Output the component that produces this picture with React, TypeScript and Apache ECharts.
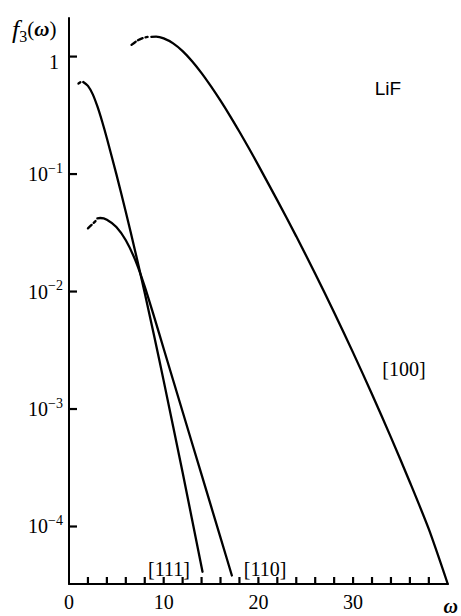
import React, { useEffect, useRef } from 'react';
import * as echarts from 'echarts';

// Curve [100]
const w100Dash = [6.6, 7.2, 7.8, 8.3];
const f100Dash = [1.259, 1.365, 1.439, 1.469];
const w100 = [8.7, 9.2, 10, 11, 12, 13, 14, 15, 16, 17, 18, 19, 20, 22, 24, 26, 28, 30, 32, 34, 36, 38, 40];
const f100 = [1.472, 1.479, 1.429, 1.296, 1.113, 0.913, 0.723, 0.557, 0.421, 0.313, 0.229, 0.166, 0.1186, 0.0597, 0.0295, 0.01419, 0.00664, 0.00302, 0.001337, 5.74e-4, 2.38e-4, 9.48e-5, 3.24e-5];

// Curve [111]
const w111Dash = [1.0, 1.2];
const f111Dash = [0.59, 0.605];
const w111 = [1.5, 2.0, 2.5, 3.0, 3.5, 4.0, 5.0, 6.0, 7.0, 8.0, 9.0, 10.0, 12.0, 14.1];
const f111 = [0.607, 0.563, 0.479, 0.376, 0.28, 0.2016, 0.0999, 0.0475, 0.02185, 0.00971, 0.004164, 0.001736, 2.88e-4, 4.12e-5];

// Curve [110]
const w110Dash = [2.0, 2.4, 2.8];
const f110Dash = [0.0345, 0.037, 0.0398];
const w110 = [3.0, 3.3, 4.0, 5.0, 6.0, 7.0, 8.0, 9.0, 10.0, 12.0, 14.0, 16.0, 17.2];
const f110 = [0.0419, 0.04227, 0.04093, 0.03544, 0.02735, 0.01849, 0.01102, 0.006053, 0.003258, 9.48e-4, 2.76e-4, 8.04e-5, 3.83e-5];

// Axis ticks and labels
const xTickValues = [2, 4, 6, 8, 10, 12, 14, 16, 18, 20, 22, 24, 26, 28, 30, 32, 34, 36, 38];
const xLabelled = [0, 10, 20, 30];
const yDecades = [1e-4, 1e-3, 1e-2, 1e-1, 1];
const yMin = 3.24e-5;
const yMax = 2.13;

const SERIF = '"Liberation Serif", "Times New Roman", serif';
const SANS = '"Liberation Sans", Arial, sans-serif';

const pairs = (w: number[], f: number[]) => w.map((x, i) => [x, f[i]]);

const lineSeries = (name: string, w: number[], f: number[], dashed: boolean) => ({
  name,
  type: 'line',
  data: pairs(w, f),
  showSymbol: false,
  symbol: 'none',
  smooth: 0.25,
  silent: true,
  lineStyle: { color: '#000', width: 2.3, type: dashed ? [5, 3] : 'solid', cap: 'round' },
});

export default function App() {
  const ref = useRef<HTMLDivElement>(null);
  useEffect(() => {
    if (!ref.current) return;
    const chart = echarts.init(ref.current, undefined, { renderer: 'svg' });
    chart.setOption({
      animation: false,
      backgroundColor: '#fff',
      grid: { left: 69, right: 4, top: 18, bottom: 30, containLabel: false },
      xAxis: {
        type: 'value',
        min: 0,
        max: 40,
        interval: 2,
        axisLine: { show: true, onZero: false, lineStyle: { color: '#000', width: 2 } },
        axisTick: { show: false },
        splitLine: { show: false },
        axisLabel: {
          margin: 8,
          color: '#000',
          fontFamily: SERIF,
          fontSize: 20,
          formatter: (v: number) => {
            if (Math.abs(v - 40) < 1e-6) return '{w|ω}';
            return xLabelled.includes(v) ? String(v) : '';
          },
          rich: {
            w: { fontFamily: SERIF, fontSize: 20, fontStyle: 'italic', fontWeight: 'bold', color: '#000', padding: [4, 0, 0, 6] },
          },
        },
      },
      yAxis: {
        type: 'log',
        logBase: 10,
        min: yMin,
        max: yMax,
        axisLine: { show: true, lineStyle: { color: '#000', width: 2 } },
        axisTick: { show: false },
        splitLine: { show: false },
        axisLabel: {
          margin: 6,
          color: '#000',
          showMinLabel: false,
          showMaxLabel: false,
          formatter: (v: number) => {
            const l = Math.log10(v);
            const e = Math.round(l);
            if (Math.abs(l - e) > 0.01) return '';
            if (e === 0) return '{one|1}';
            return `{b|10}{s|−${-e}}`;
          },
          rich: {
            one: { fontFamily: SERIF, fontSize: 20, color: '#000', lineHeight: 24, padding: [10, 4, 0, 0] },
            b: { fontFamily: SERIF, fontSize: 20, color: '#000', lineHeight: 26 },
            s: { fontFamily: SERIF, fontSize: 14, color: '#000', lineHeight: 14, verticalAlign: 'top' },
          },
        },
      },
      series: [
        lineSeries('[100] dash', w100Dash, f100Dash, true),
        lineSeries('[100]', w100, f100, false),
        lineSeries('[111] dash', w111Dash, f111Dash, true),
        lineSeries('[111]', w111, f111, false),
        lineSeries('[110] dash', w110Dash, f110Dash, true),
        lineSeries('[110]', w110, f110, false),
        {
          name: 'x ticks',
          type: 'custom',
          silent: true,
          clip: false,
          z: 4,
          data: xTickValues.map((v) => [v, yMin]),
          renderItem: (_params: any, api: any) => {
            const p = api.coord([api.value(0), api.value(1)]);
            return {
              type: 'line',
              shape: { x1: p[0], y1: p[1], x2: p[0], y2: p[1] - 7 },
              style: { stroke: '#000', lineWidth: 2.2 },
            };
          },
        },
        {
          name: 'y ticks',
          type: 'custom',
          silent: true,
          clip: false,
          z: 4,
          data: yDecades.map((v) => [0, v]),
          renderItem: (_params: any, api: any) => {
            const p = api.coord([api.value(0), api.value(1)]);
            return {
              type: 'line',
              shape: { x1: p[0], y1: p[1], x2: p[0] + 8, y2: p[1] },
              style: { stroke: '#000', lineWidth: 2.2 },
            };
          },
        },
      ],
      graphic: [
        {
          type: 'text',
          x: 12,
          y: 14,
          style: {
            text: '{f|f}{sub|3}{p|(}{w|ω}{p|)}',
            rich: {
              f: { fontFamily: SERIF, fontSize: 26, fontStyle: 'italic', fill: '#000', color: '#000', lineHeight: 30 },
              sub: { fontFamily: SERIF, fontSize: 16, fill: '#000', color: '#000', lineHeight: 16, verticalAlign: 'bottom' },
              p: { fontFamily: SERIF, fontSize: 21, fill: '#000', color: '#000', lineHeight: 26 },
              w: { fontFamily: SERIF, fontSize: 21, fontStyle: 'italic', fontWeight: 'bold', fill: '#000', color: '#000', lineHeight: 26 },
            },
          },
        },
        {
          type: 'text',
          x: 388,
          y: 88,
          style: { text: 'LiF', fill: '#000', fontFamily: SANS, fontSize: 19, align: 'center', verticalAlign: 'middle' },
        },
        {
          type: 'text',
          x: 404,
          y: 369,
          style: { text: '[100]', fill: '#000', fontFamily: SERIF, fontSize: 20, align: 'center', verticalAlign: 'middle' },
        },
        {
          type: 'text',
          x: 169,
          y: 569,
          style: { text: '[111]', fill: '#000', fontFamily: SERIF, fontSize: 20, align: 'center', verticalAlign: 'middle' },
        },
        {
          type: 'text',
          x: 265,
          y: 569,
          style: { text: '[110]', fill: '#000', fontFamily: SERIF, fontSize: 20, align: 'center', verticalAlign: 'middle' },
        },
      ],
    });
    return () => chart.dispose();
  }, []);
  return (
    <div
      ref={ref}
      style={{ position: 'absolute', left: 0, top: 0, width: 461, height: 616, background: '#fff' }}
    />
  );
}
